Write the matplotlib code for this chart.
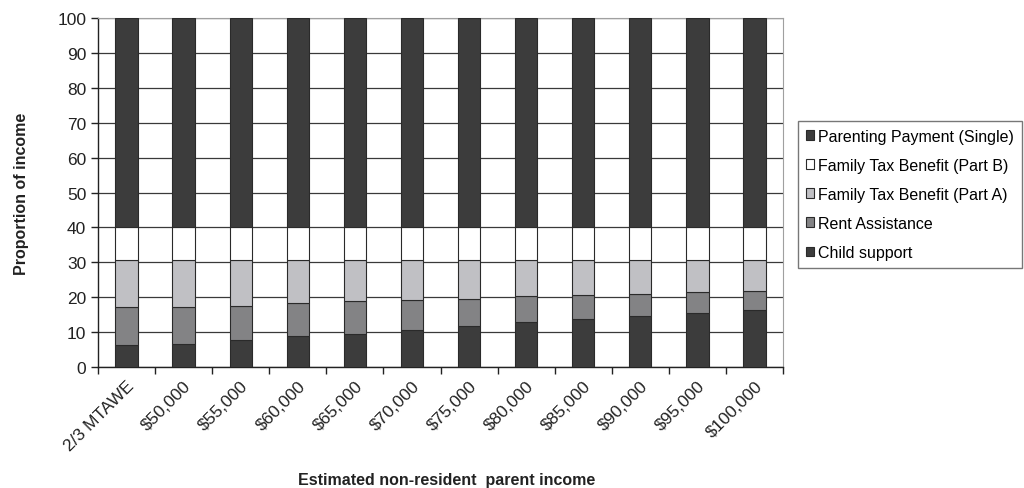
import matplotlib.pyplot as plt
import numpy as np

plt.rcParams['font.family'] = ['Liberation Sans', 'DejaVu Sans']

incomes = ['2/3 MTAWE', '$50,000', '$55,000', '$60,000', '$65,000', '$70,000',
           '$75,000', '$80,000', '$85,000', '$90,000', '$95,000', '$100,000']

# stacked shares of income, bottom to top
child_support = [6.2, 6.5, 7.6, 8.8, 9.5, 10.7, 11.7, 12.9, 13.7, 14.7, 15.5, 16.2]
rent_assistance = [11.0, 10.7, 10.0, 9.5, 9.3, 8.4, 7.7, 7.4, 6.8, 6.2, 5.9, 5.5]
ftb_a = [13.4, 13.4, 13.0, 12.3, 11.8, 11.5, 11.2, 10.3, 10.1, 9.7, 9.2, 8.9]
ftb_b = [9.4] * 12
parenting = [60.0] * 12

series = [
    ('Child support', child_support, '#3c3c3c'),
    ('Rent Assistance', rent_assistance, '#838385'),
    ('Family Tax Benefit (Part A)', ftb_a, '#c0c0c4'),
    ('Family Tax Benefit (Part B)', ftb_b, '#ffffff'),
    ('Parenting Payment (Single)', parenting, '#3c3c3c'),
]

fig = plt.figure(figsize=(10.24, 4.89), dpi=100)
ax = fig.add_axes([0.0957, 0.2474, 0.669, 0.7137])

x = np.arange(len(incomes))
bottom = np.zeros(len(incomes))
handles = []
for name, vals, col in series:
    b = ax.bar(x, vals, 0.39, bottom=bottom, color=col, edgecolor='#2a2a2a',
               linewidth=0.8, label=name, zorder=3)
    handles.append(b)
    bottom += np.array(vals)

ax.set_xlim(-0.5, len(incomes) - 0.5)
ax.set_ylim(0, 100)
ax.set_yticks(range(0, 101, 10))
ax.yaxis.grid(True, color='#3a3a3a', linewidth=0.9, zorder=0)

ax.set_xticks(x)
ax.set_xticklabels(incomes, rotation=45, ha='right', rotation_mode='anchor')
ax.set_xticks(np.arange(-0.5, len(incomes)), minor=True)
ax.tick_params(axis='x', which='major', length=0, labelsize=12.5, pad=8,
               labelcolor='#222222')
ax.tick_params(axis='x', which='minor', length=5, width=1, color='#222222')
ax.tick_params(axis='y', length=5, width=1, labelsize=12.5, labelcolor='#222222',
               color='#222222')

for side in ['top', 'right']:
    ax.spines[side].set_color('#a0a0a0')
for side in ['left', 'bottom']:
    ax.spines[side].set_color('#222222')
    ax.spines[side].set_linewidth(1.0)

ax.set_ylabel('Proportion of income', fontsize=11.5, fontweight='bold',
              color='#222222', labelpad=20)
fig.text(0.436, 0.018, 'Estimated non-resident  parent income', fontsize=11.5,
         fontweight='bold', color='#222222', ha='center', va='center')

leg = fig.legend(handles[::-1], [s[0] for s in series][::-1],
                 loc='upper left', bbox_to_anchor=(0.779, 0.751),
                 fontsize=11.5, frameon=True, fancybox=False,
                 handlelength=0.55, handleheight=0.55, handletextpad=0.2,
                 labelspacing=0.88, borderpad=0.5, borderaxespad=0)
leg.get_frame().set_edgecolor('#555555')
leg.get_frame().set_linewidth(1.0)

fig.savefig('out.png', dpi=100)
